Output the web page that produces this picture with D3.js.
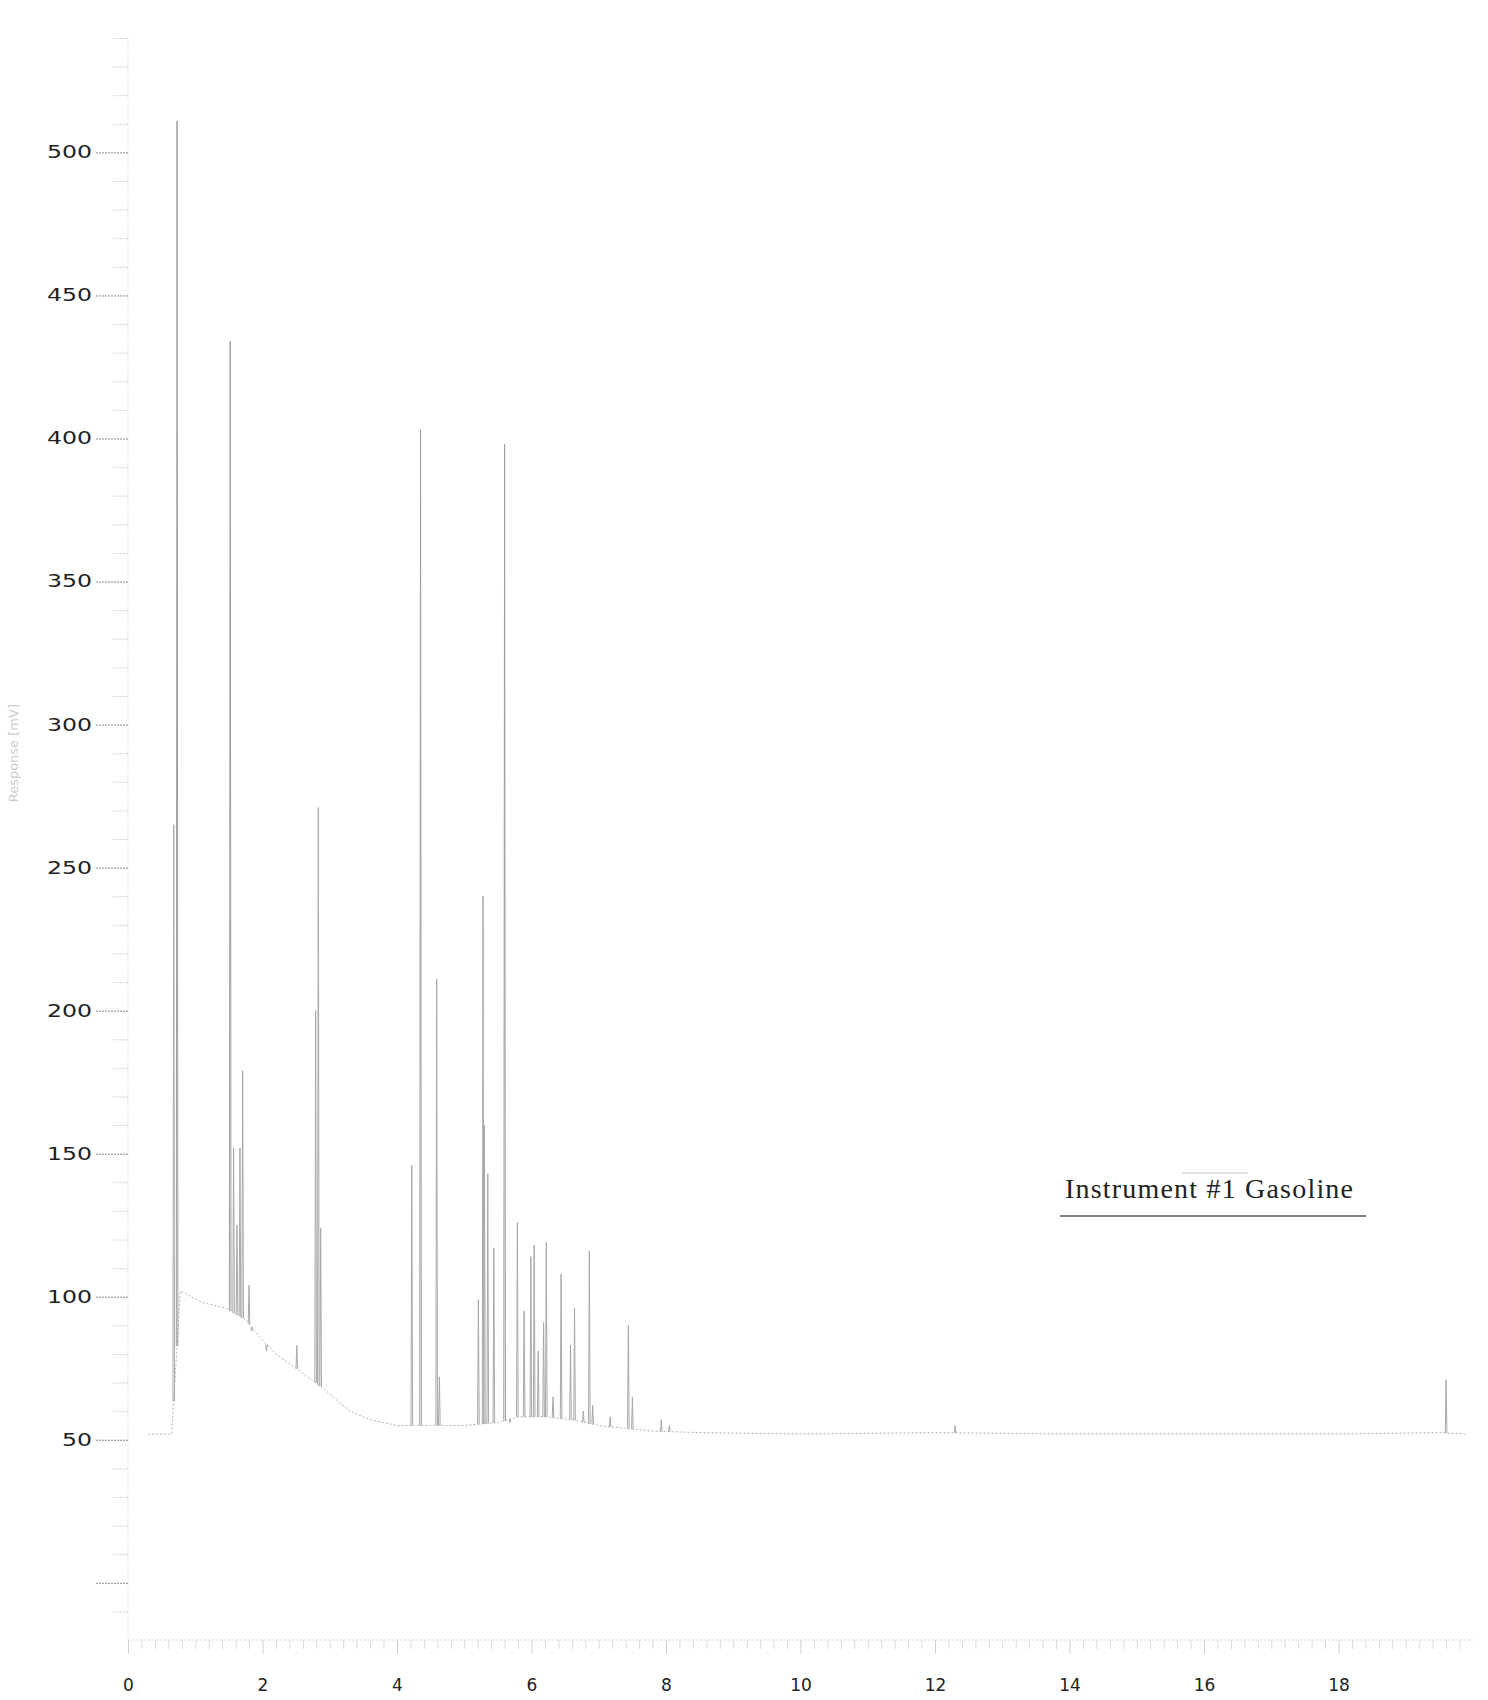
<!DOCTYPE html>
<html>
<head>
<meta charset="utf-8">
<script src="https://cdn.jsdelivr.net/npm/d3@7/dist/d3.min.js"></script>
<style>
  html, body { margin: 0; padding: 0; background: #fff; }
  svg { display: block; }
</style>
</head>
<body>
<script>
// ---- Data ----
// Peak apex retention times (min) and apex responses (mV)
const peakTimes   = [0.68, 0.73, 1.52, 1.57, 1.62, 1.665, 1.705, 1.80, 1.84, 2.06, 2.51, 2.79, 2.83, 2.865,
                     4.22, 4.35, 4.59, 4.63, 5.21, 5.28, 5.30, 5.35, 5.44, 5.60, 5.68, 5.79, 5.89, 5.99,
                     6.04, 6.10, 6.18, 6.22, 6.32, 6.44, 6.58, 6.64, 6.77, 6.86, 6.91, 7.17, 7.44, 7.50,
                     7.93, 8.05, 12.3, 19.6];
const peakHeights = [265, 511, 434, 152, 125, 152, 179, 104, 88, 81, 83, 200, 271, 124,
                     146, 403, 211, 72, 99, 240, 160, 143, 117, 398, 56, 126, 95, 114,
                     118, 81, 91, 119, 65, 108, 83, 96, 60, 116, 62, 58, 90, 65,
                     57, 55, 55, 71];
// Baseline (drift) of the trace
const baseTimes  = [0.3, 0.65, 0.78, 1.1, 1.45, 1.75, 1.95, 2.2, 2.5, 2.9, 3.1, 3.3, 3.6, 4.0, 4.5, 5.0,
                    5.5, 5.8, 6.2, 6.6, 7.0, 7.4, 7.8, 8.5, 10, 12, 14, 16, 18, 19.5, 19.9];
const baseValues = [52, 52, 102, 98, 96, 92, 86, 80, 75, 68, 64, 60, 57, 55, 55, 55,
                    56, 58, 58, 57, 55, 54, 53, 52.5, 52, 52.5, 52, 52, 52, 52.5, 52];
// Axis ticks
const yTickValues = [50, 100, 150, 200, 250, 300, 350, 400, 450, 500];
const xTickValues = [0, 2, 4, 6, 8, 10, 12, 14, 16, 18];
const yTitle = "Response [mV]";
const annotation = "Instrument #1 Gasoline";

// ---- Layout ----
const W = 1488, H = 1700;
const svg = d3.select("body").append("svg").attr("width", W).attr("height", H);

const x = d3.scaleLinear().domain([0, 20]).range([128, 1473]);
const y = d3.scaleLinear().domain([-20, 540]).range([1640, 38]);

// baseline helper (foot of each peak on the drift line)
function baseAt(t) {
  if (t <= baseTimes[0]) return baseValues[0];
  for (let i = 1; i < baseTimes.length; i++) {
    if (t <= baseTimes[i]) {
      const f = (t - baseTimes[i - 1]) / (baseTimes[i] - baseTimes[i - 1]);
      return baseValues[i - 1] + f * (baseValues[i] - baseValues[i - 1]);
    }
  }
  return baseValues[baseValues.length - 1];
}

// ---- Y axis ----
const axisX = 128;
const yMinor = d3.range(-10, 541, 10).filter(v => v % 50 !== 0);
const gYm = svg.append("g").attr("transform", `translate(${axisX},0)`)
  .call(d3.axisLeft(y).tickValues(yMinor).tickSize(16).tickFormat(""));
gYm.select(".domain").remove();
gYm.selectAll(".tick line").attr("stroke", "#d6d6d6").attr("stroke-dasharray", "2,1");

const gY = svg.append("g").attr("transform", `translate(${axisX},0)`)
  .call(d3.axisLeft(y).tickValues(yTickValues.concat([0])).tickSize(33).tickPadding(3)
    .tickFormat(d => d === 0 ? "" : d));
gY.select(".domain").attr("stroke", "#c4c4c4").attr("stroke-dasharray", "1,2")
  .attr("d", `M0,${y(540)}V${y(-20)}`);
gY.selectAll(".tick line").attr("stroke", "#888").attr("stroke-dasharray", "2,1");
gY.selectAll(".tick text")
  .attr("font-family", "DejaVu Sans, sans-serif").attr("font-size", 17)
  .attr("fill", "#222")
  .each(function () {
    const n = this.textContent.length;
    if (n) d3.select(this).attr("textLength", 15 * n).attr("lengthAdjust", "spacingAndGlyphs");
  });

// ---- X axis ----
const axisY = 1640;
const xMinor = d3.range(0.2, 20, 0.2).filter(v => Math.abs(v / 2 - Math.round(v / 2)) > 1e-6);
const gXm = svg.append("g").attr("transform", `translate(0,${axisY})`)
  .call(d3.axisBottom(x).tickValues(xMinor).tickSize(9).tickFormat(""));
gXm.select(".domain").remove();
gXm.selectAll(".tick line").attr("stroke", "#dadada");

const gX = svg.append("g").attr("transform", `translate(0,${axisY})`)
  .call(d3.axisBottom(x).tickValues(xTickValues).tickSize(14).tickPadding(25));
gX.select(".domain").attr("stroke", "#d6d6d6").attr("stroke-dasharray", "2,2")
  .attr("d", `M${x(0)},0H${x(20)}`);
gX.selectAll(".tick line").attr("stroke", "#d0d0d0");
gX.selectAll(".tick text")
  .attr("font-family", "DejaVu Sans, sans-serif").attr("font-size", 17).attr("fill", "#222");

// ---- Y axis title (faint, as in the scan) ----
svg.append("text")
  .attr("transform", `translate(18,${y(290)}) rotate(-90)`)
  .attr("text-anchor", "middle")
  .attr("font-family", "DejaVu Sans, sans-serif").attr("font-size", 13)
  .attr("fill", "#cccccc")
  .text(yTitle);

// ---- Trace: baseline drift ----
const baseData = baseTimes.map((t, i) => [t, baseValues[i]]);
svg.append("path")
  .datum(baseData)
  .attr("fill", "none").attr("stroke", "#b4b4b4").attr("stroke-width", 1)
  .attr("stroke-dasharray", "2,2")
  .attr("d", d3.line().x(d => x(d[0])).y(d => y(d[1])));

// ---- Trace: peaks ----
const w = 0.012;
const peaks = peakTimes.map((t, i) => ({ t, h: peakHeights[i], b: baseAt(t) }));
svg.append("g").selectAll("path")
  .data(peaks).join("path")
  .attr("fill", "none")
  .attr("stroke", d => d.h > 300 ? "#9c9c9c" : "#a8a8a8")
  .attr("stroke-width", 1)
  .attr("d", d => d3.line()([[x(d.t - w), y(d.b)], [x(d.t), y(d.h)], [x(d.t + w), y(d.b)]]));

// ---- Annotation ----
svg.append("line")
  .attr("x1", 1182).attr("x2", 1248).attr("y1", 1173).attr("y2", 1173)
  .attr("stroke", "#c4c4c4").attr("stroke-width", 1);
svg.append("text")
  .attr("x", 1065).attr("y", 1198)
  .attr("font-family", "Liberation Serif, 'Times New Roman', serif")
  .attr("font-size", 28).attr("fill", "#222")
  .attr("textLength", 288).attr("lengthAdjust", "spacing")
  .text(annotation);
svg.append("line")
  .attr("x1", 1060).attr("x2", 1366).attr("y1", 1216).attr("y2", 1216)
  .attr("stroke", "#555").attr("stroke-width", 1.5);
</script>
</body>
</html>
